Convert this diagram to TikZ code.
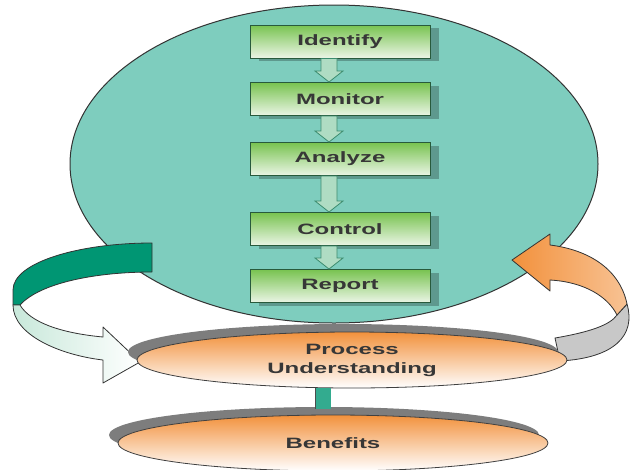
\documentclass[tikz,border=0pt]{standalone}
\usepackage{fontspec}
\newfontfamily\diagfont[FakeStretch=1.6]{Liberation Sans}
\usepackage{tikz}
\usetikzlibrary{shapes.geometric, shadows, calc}

\definecolor{cyclefill}{RGB}{126,205,190}
\definecolor{tealband}{RGB}{0,150,115}
\definecolor{mintband}{RGB}{200,232,218}
\definecolor{boxtop}{RGB}{120,195,80}
\definecolor{boxbottom}{RGB}{235,245,230}
\definecolor{boxborder}{RGB}{40,90,60}
\definecolor{arrowline}{RGB}{60,140,110}
\definecolor{arrowfill}{RGB}{175,220,195}
\definecolor{ellorange}{RGB}{242,145,60}
\definecolor{rimgray}{RGB}{125,125,125}
\definecolor{bandgray}{RGB}{200,200,200}
\definecolor{textgray}{RGB}{55,55,55}

\tikzset{
  stepbox/.style={rectangle, draw=boxborder, line width=1pt, minimum width=180pt,
    minimum height=33pt, top color=boxtop, bottom color=boxbottom,
    drop shadow={shadow xshift=9pt, shadow yshift=-3pt, fill=black, opacity=0.25},
    text=textgray, font=\diagfont\bfseries\fontsize{15}{19}\selectfont},
  stageoval/.style={ellipse, draw=black!75, line width=0.8pt, minimum width=430pt,
    minimum height=56pt, top color=ellorange, middle color=ellorange!40, bottom color=white,
    drop shadow={shadow xshift=-9pt, shadow yshift=8pt, fill=rimgray, opacity=1},
    align=center, text=textgray, font=\diagfont\bfseries\fontsize{15}{19}\selectfont},
  downarrow/.style={draw=arrowline, fill=arrowfill, line width=0.8pt, to path={
    let \p1=(\tikztostart), \p2=(\tikztotarget) in
    (\x1-8pt,\y1) -- (\x1-8pt,\y2+11pt) -- (\x1-14pt,\y2+11pt) -- (\x2,\y2)
    -- (\x1+14pt,\y2+11pt) -- (\x1+8pt,\y2+11pt) -- (\x1+8pt,\y1) -- cycle}},
  band/.style={draw=black!80, line width=0.8pt, line join=round}
}

\begin{document}
\begin{tikzpicture}[x=1pt, y=-1pt]
    \useasboundingbox (0,0) rectangle (631,469);

    % Cycle
    \node[ellipse, draw=black!80, line width=1pt, fill=cyclefill, minimum width=528pt,
      minimum height=318pt] (cycle) at (334,164) {};

    % Ribbon (back parts)
    \draw[band, fill=bandgray] (627,304) .. controls (636,335) and (615,358) .. (560,361)
      -- (555,338) .. controls (590,332) and (610,325) .. (617,315) -- cycle;
    \draw[band, fill=tealband] (152,243) .. controls (80,243) and (13,262) .. (13,290)
      -- (13,305) -- (20,305) .. controls (40,283) and (95,272) .. (152,272) -- cycle;
    \coordinate (intip) at (140,362);
    \draw[band, left color=mintband, right color=white] (13,305) .. controls (13,335) and (60,355) .. (103,360)
      -- (103,383) -- (intip) -- (103,327) -- (103,337)
      .. controls (60,333) and (30,322) .. (20,305) -- cycle;

    % Steps
    \node[stepbox] (Identify) at (340,41.5) {Identify};
    \node[stepbox] (Monitor) at (340,99) {Monitor};
    \node[stepbox] (Analyze) at (340,159) {Analyze};
    \node[stepbox] (Control) at (340,229) {Control};
    \node[stepbox] (Report) at (340,286) {Report};

    % Step arrows
    \draw[downarrow] ([xshift=-11pt]Identify.south) to ([xshift=-11pt]Monitor.north);
    \draw[downarrow] ([xshift=-11pt]Monitor.south) to ([xshift=-11pt]Analyze.north);
    \draw[downarrow] ([xshift=-11pt]Analyze.south) to ([xshift=-11pt]Control.north);
    \draw[downarrow] ([xshift=-11pt]Control.south) to ([xshift=-11pt]Report.north);

    % Outcomes
    \node[stageoval] (Process) at (352,360) {Process\\Understanding};
    \node[stageoval] (Benefits) at (333,443) {Benefits};
    \coordinate (link) at (323,409);
    \draw[draw=black!70, line width=0.8pt, double=tealband!80, double distance=15pt]
      (Process.south -| link) -- (link);

    % Ribbon (front part)
    \coordinate (outtip) at (512,260);
    \draw[band, left color=ellorange, right color=ellorange!55] (627,304)
      .. controls (620,270) and (590,250) .. (550,245) -- (550,234) -- (outtip)
      -- (550,291) -- (550,280) .. controls (585,282) and (608,297) .. (617,315) -- cycle;
\end{tikzpicture}
\end{document}
